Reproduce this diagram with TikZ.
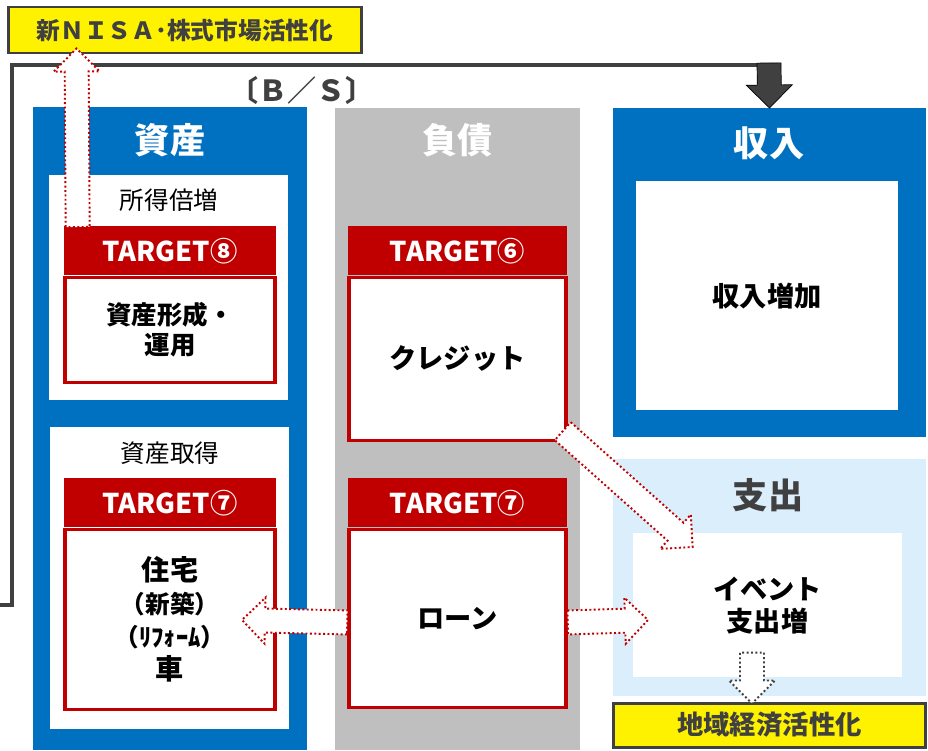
\documentclass[tikz,border=0pt]{standalone}
\usepackage{fontspec}
\setmainfont{Noto Sans CJK JP}
\usetikzlibrary{positioning,calc}
\definecolor{bsblue}{HTML}{0070C0}
\definecolor{tred}{HTML}{C00000}
\definecolor{dgray}{HTML}{404040}
\definecolor{colgray}{HTML}{BFBFBF}
\definecolor{lblue}{HTML}{DAEEFC}
\tikzset{
  col/.style={inner sep=0pt,anchor=north},
  coltitle/.style={text=white,font=\bfseries\fontsize{20}{24}\selectfont},
  wbox/.style={fill=white,inner sep=0pt,align=center,font=\bfseries\fontsize{15.5}{18}\selectfont},
  tgthd/.style={fill=tred,text=white,font=\bfseries\fontsize{15.5}{18}\selectfont,minimum height=0.98cm,inner sep=0pt,anchor=north},
  tgtbd/.style={draw=tred,line width=2pt,fill=white,align=center,inner sep=0pt,font=\bfseries\fontsize{15.5}{18}\selectfont},
  goal/.style={draw=dgray,line width=1.7pt,fill=yellow,text=dgray,font=\bfseries\fontsize{13.5}{16}\selectfont,inner sep=0pt},
  dotarr/.style={draw=tred,fill=white,line width=1.1pt,dash pattern=on 1.1pt off 1.4pt},
  dotarrg/.style={dotarr,draw=dgray},
  fbline/.style={dgray,line width=2pt},
  fbhead/.style={fill=dgray}
}
% block arrow: style, tail, tip
\newcommand{\blkarrow}[3]{%
  \coordinate (hb) at ($(#3)!0.46cm!(#2)$);
  \draw[#1] ($(#2)!0.24cm!90:(#3)$) -- ($(hb)!0.24cm!90:(#3)$) -- ($(hb)!0.46cm!90:(#3)$) -- (#3)
    -- ($(hb)!0.46cm!-90:(#3)$) -- ($(hb)!0.24cm!-90:(#3)$) -- ($(#2)!0.24cm!-90:(#3)$) -- cycle;}

\begin{document}
\begin{tikzpicture}[x=0.02cm,y=-0.02cm]
\useasboundingbox (0,0) rectangle (928,750);
% columns of the B/S
\node[col,fill=bsblue,minimum width=5.48cm,minimum height=12.86cm] (asset) at (170,107) {};
\node[coltitle] (assetT) at (170,140) {資産};
\node[col,fill=colgray,minimum width=4.9cm,minimum height=12.84cm] (debt) at (457.5,108) {};
\node[coltitle] (debtT) at (457.5,140) {負債};
\node[col,fill=bsblue,minimum width=6.26cm,minimum height=6.58cm] (income) at (769.5,108) {};
\node[coltitle] (incomeT) at (769,143) {収入};
\node[col,fill=lblue,minimum width=6.26cm,minimum height=4.74cm] (spend) at (769.5,459) {};
\node[coltitle,text=dgray] (spendT) at (768,495) {支出};
\node[text=dgray,font=\bfseries\fontsize{16.5}{19}\selectfont] (bs) at (302,90) {〔Ｂ／Ｓ〕};

% asset side
\node[col,wbox,minimum width=4.78cm,minimum height=4.5cm] (grow) at (168.5,175) {};
\node[font=\fontsize{14}{17}\selectfont] (growT) at (169,200) {所得倍増};
\node[tgthd,minimum width=4.24cm] (t8) at (170,226) {TARGET⑧};
\node[tgtbd,below=0pt of t8,minimum width=4.2cm,minimum height=2.1cm,font=\bfseries\fontsize{14.5}{17}\selectfont] (t8b) {資産形成・\\運用};
\node[col,wbox,minimum width=4.78cm,minimum height=6.04cm] (buy) at (169.5,427) {};
\node[font=\fontsize{14}{17}\selectfont] (buyT) at (170,453) {資産取得};
\node[tgthd,minimum width=4.24cm] (t7a) at (170,478) {TARGET⑦};
\node[tgtbd,below=0pt of t7a,minimum width=4.2cm,minimum height=3.6cm,font=\bfseries\fontsize{14}{18.7}\selectfont] (t7ab)
  {{\fontsize{16}{18.7}\selectfont 住宅}\\（新築）\\（ﾘﾌｫｰﾑ）\\{\fontsize{16}{18.7}\selectfont 車}};

% debt side
\node[tgthd,minimum width=4.38cm] (t6) at (457.5,226) {TARGET⑥};
\node[tgtbd,below=0pt of t6,minimum width=4.34cm,minimum height=3.26cm] (t6b) {クレジット};
\node[tgthd,minimum width=4.38cm] (t7b) at (457.5,478) {TARGET⑦};
\node[tgtbd,below=0pt of t7b,minimum width=4.34cm,minimum height=3.56cm] (t7bb) {ローン};

% income / spending
\node[col,wbox,minimum width=5.24cm,minimum height=4.58cm] (incomeW) at (767,181) {収入増加};
\node[col,wbox,minimum width=5.38cm,minimum height=2.88cm] (spendW) at (767.5,533) {イベント\\支出増};

% goals
\node[goal,minimum width=7.08cm,minimum height=0.92cm] (nisa) at (185,30) {新ＮＩＳＡ･株式市場活性化};
\node[goal,minimum width=6.26cm,minimum height=0.88cm,font=\bfseries\fontsize{15}{18}\selectfont] (local) at (769.5,725) {地域経済活性化};

% feedback line
\coordinate (fbS) at (0,605);
\coordinate (fbA) at (12,605);
\coordinate (fbB) at (12,65);
\coordinate (fbC) at (781,65);
\coordinate (fbT) at ($(income.north)+(-0.5,-45)$);
\draw[fbline] (fbS) -- (fbA) -- (fbB) -- (fbC);
\blkarrow{fbhead}{fbT}{income.north}

% effect arrows
\coordinate (upS) at ($(t8.north west)+(14,1)$);
\coordinate (upE) at ($(nisa.south west)+(70,-6)$);
\blkarrow{dotarr}{upS}{upE}
\coordinate (crS) at ($(t6b.south east)+(-5,-11)$);
\coordinate (crE) at ($(spendW.north west)+(60,14)$);
\blkarrow{dotarr}{crS}{crE}
\coordinate (lnL) at ($(t7bb.west)+(0,4)$);
\coordinate (lnLE) at (242,620);
\blkarrow{dotarr}{lnL}{lnLE}
\coordinate (lnR) at ($(t7bb.east)+(0,4)$);
\coordinate (lnRE) at (648,620);
\blkarrow{dotarr}{lnR}{lnRE}
\coordinate (spS) at ($(spendW.south)+(-15.5,-25)$);
\coordinate (spE) at ($(local.north)+(-17.5,2)$);
\blkarrow{dotarrg}{spS}{spE}
\end{tikzpicture}
\end{document}
